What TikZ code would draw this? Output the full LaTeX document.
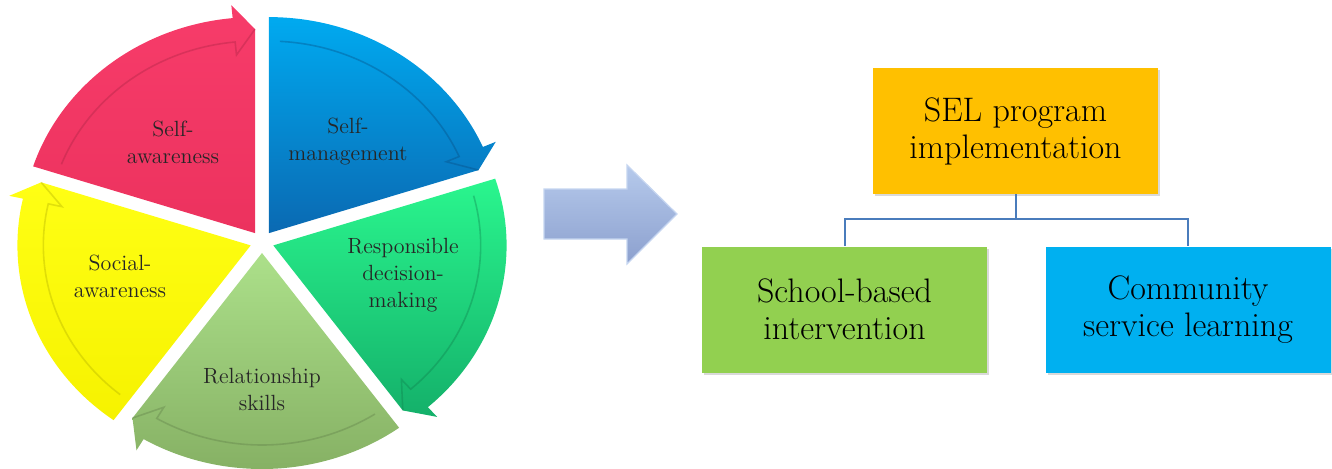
\documentclass[tikz,border=0pt]{standalone}
\usepackage{tikz}
\usetikzlibrary{shadows}

\definecolor{pinktop}{RGB}{247,60,106}
\definecolor{pinkbot}{RGB}{236,50,94}
\definecolor{bluetop}{RGB}{0,170,240}
\definecolor{bluebot}{RGB}{10,105,178}
\definecolor{greentop}{RGB}{42,246,142}
\definecolor{greenbot}{RGB}{20,176,106}
\definecolor{lgreentop}{RGB}{172,224,138}
\definecolor{lgreenbot}{RGB}{132,174,98}
\definecolor{yellowtop}{RGB}{255,255,20}
\definecolor{yellowbot}{RGB}{246,242,0}
\definecolor{arrowtop}{RGB}{182,202,236}
\definecolor{arrowbot}{RGB}{140,160,206}
\definecolor{selgold}{RGB}{255,192,0}
\definecolor{schoolgreen}{RGB}{146,208,80}
\definecolor{commblue}{RGB}{0,176,240}
\definecolor{connblue}{RGB}{74,124,188}

\begin{document}
\begin{tikzpicture}[x=0.5pt,y=0.5pt,
  box/.style={minimum width=142.5pt,minimum height=63pt,inner sep=0pt,align=center,
    font=\fontsize{17}{18.5}\selectfont,
    drop shadow={shadow xshift=1pt,shadow yshift=-1pt,opacity=0.3}},
  conn/.style={draw=connblue,line width=1pt},
  lab/.style={align=center,font=\fontsize{11}{13.5}\selectfont,text=black!85}]
\useasboundingbox (0,0) rectangle (1332,468);

% cycle of five arrows
\begin{scope}[shift={(262,226)},xscale=1.08]
\foreach \a/\ct/\cb in {162/pinktop/pinkbot,90/bluetop/bluebot,18/greentop/greenbot,-54/lgreentop/lgreenbot,-126/yellowtop/yellowbot}{
  \path[top color=\ct,bottom color=\cb,shift={(\a-36:11)}]
    (0,0) -- (\a:216) arc[start angle=\a,end angle=\a-66.5,radius=216]
    -- (\a-66.5:229) -- (\a-72:204) -- cycle;
  \draw[\cb!70!black,opacity=0.35,line width=0.8pt,shift={(\a-36:11)}]
    (\a-3:192) arc[start angle=\a-3,end angle=\a-66.5,radius=192]
    -- (\a-66.5:179) -- (\a-72:204);
}
\end{scope}

\node[lab] (selfaw) at (173,326) {Self-\\awareness};
\node[lab] (selfman) at (348,326) {Self-\\management};
\node[lab] (decision) at (403,193) {Responsible\\decision-\\making};
\node[lab] (social) at (120,192) {Social-\\awareness};
\node[lab] (relation) at (262,79) {Relationship\\skills};

% big arrow
\path[top color=arrowtop,bottom color=arrowbot,draw=arrowtop!80!white,line width=0.6pt]
  (544,229) -- (627,229) -- (627,204) -- (677,254) -- (627,303) -- (627,279)
  -- (544,279) -- cycle;

% hierarchy
\node[box,fill=selgold] (sel) at (1015.5,337) {SEL program\\implementation};
\node[box,fill=schoolgreen] (school) at (844.5,158.5) {School-based\\intervention};
\node[box,fill=commblue] (comm) at (1188,158.5) {Community\\service learning};

\coordinate (bus) at (1015.5,249);
\draw[conn] (sel.south) -- (bus);
\draw[conn] (school.north) |- (bus) -| (comm.north);

\end{tikzpicture}
\end{document}
